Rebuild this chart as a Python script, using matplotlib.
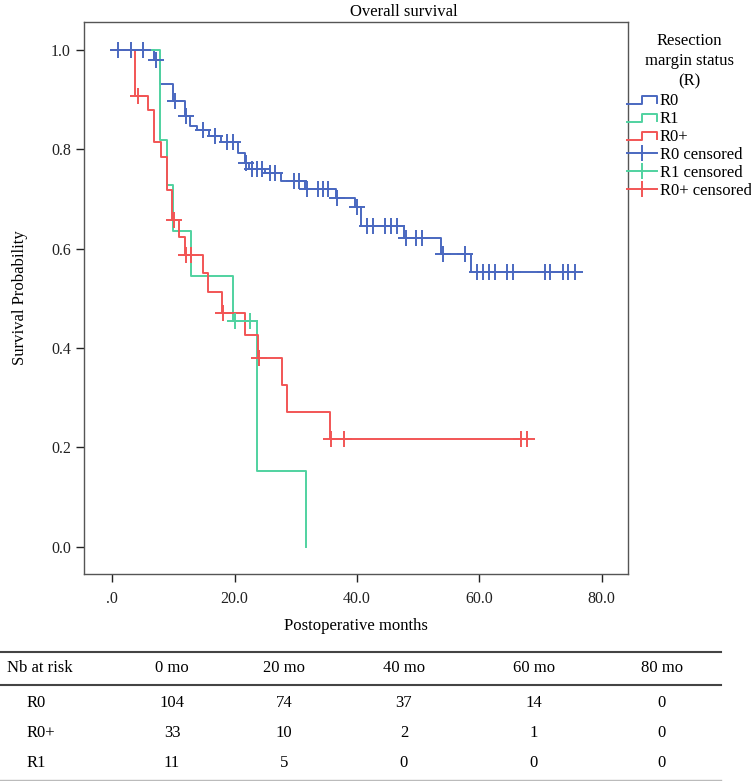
import numpy as np
import matplotlib.pyplot as plt
from matplotlib.legend_handler import HandlerBase
from matplotlib.lines import Line2D

plt.rcParams['font.family'] = ['Liberation Serif', 'DejaVu Serif']

W, H = 751, 781

# Kaplan-Meier steps (month of drop, survival after drop)
r0_times = [6.9, 7.9, 9.9, 11.9, 12.8, 13.9, 15.8, 17.8, 20.6, 21.7, 22.3, 25.0,
            27.6, 31.5, 36.6, 39.7, 40.7, 47.7, 53.7, 58.6]
r0_surv = [0.980, 0.931, 0.898, 0.867, 0.847, 0.839, 0.827, 0.815, 0.793, 0.772,
           0.760, 0.752, 0.735, 0.720, 0.702, 0.683, 0.646, 0.621, 0.589, 0.552]
r0_cens = [1.0, 3.0, 5.0, 7.2, 10.2, 12.1, 14.9, 16.8, 18.7, 19.7, 21.9, 22.8,
           23.6, 24.5, 25.8, 26.6, 29.7, 30.5, 31.8, 33.7, 34.5, 35.3, 36.8, 40.0,
           41.6, 42.6, 44.6, 45.5, 46.5, 48.0, 49.7, 50.6, 54.0, 57.6, 59.7, 60.6,
           61.6, 62.5, 64.6, 65.5, 70.7, 71.6, 73.6, 74.5, 75.6]

r1_times = [7.9, 8.9, 9.9, 12.9, 19.7, 23.6, 31.6]
r1_surv = [0.818, 0.727, 0.636, 0.545, 0.455, 0.152, 0.0]
r1_cens = [20.0, 22.6]

r0p_times = [3.8, 5.9, 6.8, 7.95, 8.9, 9.8, 10.85, 11.9, 14.9, 15.7, 17.9, 21.7,
             23.8, 27.7, 28.6, 35.6]
r0p_surv = [0.907, 0.878, 0.814, 0.784, 0.718, 0.657, 0.624, 0.588, 0.551, 0.512,
            0.471, 0.427, 0.380, 0.326, 0.272, 0.217]
r0p_cens = [4.2, 10.1, 12.1, 12.9, 18.1, 24.0, 35.8, 37.9, 66.8, 67.8]

# number at risk table
risk_cols = ['0 mo', '20 mo', '40 mo', '60 mo', '80 mo']
risk_rows = ['R0', 'R0+', 'R1']
risk_r0 = [104, 74, 37, 14, 0]
risk_r0p = [33, 10, 2, 1, 0]
risk_r1 = [11, 5, 0, 0, 0]

xticks = [0, 20, 40, 60, 80]
xticklabels = ['.0', '20.0', '40.0', '60.0', '80.0']
yticks = [0.0, 0.2, 0.4, 0.6, 0.8, 1.0]

c_r0 = '#4a68c0'
c_r1 = '#50d2a0'
c_r0p = '#f25555'


def km_curve(times, surv, cens):
    t = [0.0] + list(times)
    s = [1.0] + list(surv)
    end = max(max(times), max(cens))
    t.append(end)
    s.append(s[-1])
    return np.array(t), np.array(s)


def surv_at(times, surv, x):
    t = np.array([0.0] + list(times))
    s = np.array([1.0] + list(surv))
    idx = np.searchsorted(t, x, side='right') - 1
    return s[idx]


class StepHandler(HandlerBase):
    def create_artists(self, legend, orig_handle, xdescent, ydescent, width,
                       height, fontsize, trans):
        x0, y0 = -xdescent, -ydescent
        xs = [x0, x0 + 0.5 * width, x0 + 0.5 * width, x0 + width, x0 + width]
        ys = [y0 + 0.1 * height, y0 + 0.1 * height, y0 + 0.8 * height,
              y0 + 0.8 * height, y0 + 0.2 * height]
        ln = Line2D(xs, ys, color=orig_handle.get_color(),
                    lw=orig_handle.get_linewidth(), transform=trans)
        return [ln]


fig = plt.figure(figsize=(W / 100, H / 100), dpi=100)
ax = fig.add_axes([84 / W, 1 - 574 / H, 544 / W, 552 / H])

lw = 1.4
groups = [
    ('R0', r0_times, r0_surv, r0_cens, c_r0),
    ('R1', r1_times, r1_surv, r1_cens, c_r1),
    ('R0+', r0p_times, r0p_surv, r0p_cens, c_r0p),
]
for name, tt, ss, cc, col in groups:
    t, s = km_curve(tt, ss, cc)
    ax.step(t, s, where='post', color=col, lw=lw)
for name, tt, ss, cc, col in groups:
    ax.plot(cc, surv_at(tt, ss, np.array(cc)), linestyle='none', marker='+',
            ms=11, mew=1.4, color=col)

ax.set_xlim(-4.6, 84.3)
ax.set_ylim(-0.055, 1.056)
ax.set_xticks(xticks)
ax.set_xticklabels(xticklabels)
ax.set_yticks(yticks)
ax.set_yticklabels([f'{v:.1f}' for v in yticks])
ax.tick_params(direction='out', length=6, width=1, colors='#222222',
               labelsize=11.5)
ax.tick_params(axis='x', pad=6.5)
for sp in ax.spines.values():
    sp.set_color('#555555')
    sp.set_linewidth(1.0)

ax.set_xlabel('Postoperative months', fontsize=12)
ax.xaxis.set_label_coords(0.5, -0.080)
ax.set_ylabel('Survival Probability', fontsize=12)
ax.yaxis.set_label_coords(-0.103, 0.5)

fig.text(404 / W, 1 - 12 / H, 'Overall survival', ha='center', va='center',
         fontsize=12)

handles = [Line2D([], [], color=c_r0, lw=lw), Line2D([], [], color=c_r1, lw=lw),
           Line2D([], [], color=c_r0p, lw=lw),
           Line2D([], [], color=c_r0, lw=lw, marker='|', ms=12, mew=lw),
           Line2D([], [], color=c_r1, lw=lw, marker='|', ms=12, mew=lw),
           Line2D([], [], color=c_r0p, lw=lw, marker='|', ms=12, mew=lw)]
labels = ['R0', 'R1', 'R0+', 'R0 censored', 'R1 censored', 'R0+ censored']
hmap = {h: StepHandler() for h in handles[:3]}
leg = fig.legend(handles, labels, loc='upper left',
                 bbox_to_anchor=(627 / W, 1 - 33 / H), frameon=False,
                 title='Resection\nmargin status\n(R)', fontsize=12,
                 title_fontsize=12, handlelength=1.8, handletextpad=0.15,
                 labelspacing=0.12, borderpad=0, borderaxespad=0,
                 handler_map=hmap)
leg.get_title().set_multialignment('center')
leg.get_title().set_linespacing(1.35)
leg._legend_box.sep = 2.5

# number at risk table
col_x = [172, 284, 404, 534, 662]
row_y = [703, 733, 763]
fig.add_artist(Line2D([0, 721 / W], [1 - 652 / H] * 2, color='#444444', lw=1.5,
                      transform=fig.transFigure))
fig.add_artist(Line2D([0, 721 / W], [1 - 685 / H] * 2, color='#444444', lw=1.5,
                      transform=fig.transFigure))
fig.add_artist(Line2D([0, 721 / W], [1 - 780 / H] * 2, color='#bbbbbb', lw=1.0,
                      transform=fig.transFigure))
fig.text(7 / W, 1 - 668 / H, 'Nb at risk', ha='left', va='center', fontsize=12)
for x, lab in zip(col_x, risk_cols):
    fig.text(x / W, 1 - 668 / H, lab, ha='center', va='center', fontsize=12)
for y, name, vals in zip(row_y, risk_rows, [risk_r0, risk_r0p, risk_r1]):
    fig.text(27 / W, 1 - y / H, name, ha='left', va='center', fontsize=12)
    for x, v in zip(col_x, vals):
        fig.text(x / W, 1 - y / H, str(v), ha='center', va='center', fontsize=12)

fig.savefig('out.png', dpi=100)
